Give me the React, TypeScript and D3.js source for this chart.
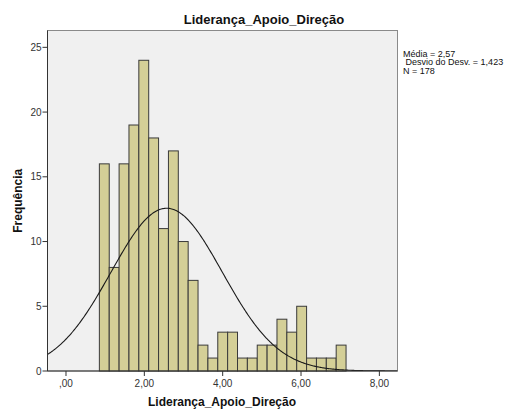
import React from "react";
import * as d3 from "d3";

const counts = [16, 8, 16, 19, 24, 18, 11, 17, 10, 7, 2, 1, 3, 3, 1, 1, 2, 2, 4, 3, 5, 1, 1, 1, 2];
const binStart = 0.852;
const binWidth = 0.2519;
const xTicks = [0, 2, 4, 6, 8];
const yTicks = [0, 5, 10, 15, 20, 25];
const mean = 2.57;
const sd = 1.423;
const n = 178;
const statLines = ["Média = 2,57", " Desvio do Desv. = 1,423", "N = 178"];
const title = "Liderança_Apoio_Direção";
const xLabel = "Liderança_Apoio_Direção";
const yLabel = "Frequência";

const W = 508, H = 410;
const L = 47.5, R = 397.5, T = 30.5, B = 371;

export default function App() {
  const x = d3.scaleLinear().domain([-0.472, 8.463]).range([L, R]);
  const y = d3.scaleLinear().domain([0, 26.3]).range([B, T]);
  const fmt = (v: number) => (v === 0 ? ",00" : v.toFixed(2).replace(".", ","));
  const [x0, x1] = x.domain();
  const pts: [number, number][] = d3.range(0, 401).map((i) => {
    const v = x0 + ((x1 - x0) * i) / 400;
    const dens = Math.exp(-0.5 * ((v - mean) / sd) ** 2) / (sd * Math.sqrt(2 * Math.PI));
    return [v, dens * n * binWidth];
  });
  const line = d3.line<[number, number]>().x((d) => x(d[0])).y((d) => y(d[1])).curve(d3.curveLinear);
  const font = "'Liberation Sans', Arial, sans-serif";
  return (
    <svg width={W} height={H} style={{ position: "absolute", left: 0, top: 0, background: "#fff" }} fontFamily={font}>
      <rect x={L} y={T} width={R - L} height={B - T} fill="#f0f0f0" stroke="#8a8a8a" strokeWidth={1} />
      <defs>
        <clipPath id="pc"><rect x={L} y={T} width={R - L} height={B - T} /></clipPath>
      </defs>
      {counts.map((c, i) => {
        const a = x(binStart + i * binWidth);
        const b = x(binStart + (i + 1) * binWidth);
        return (
          <rect key={i} x={a} y={y(c)} width={b - a} height={y(0) - y(c)} fill="#d4cf97" stroke="#3a3a3a" strokeWidth={1} />
        );
      })}
      <path d={line(pts) || ""} fill="none" stroke="#1a1a1a" strokeWidth={1.1} clipPath="url(#pc)" />
      <line x1={L} x2={L} y1={T} y2={B} stroke="#333" />
      <line x1={L} x2={R} y1={B} y2={B} stroke="#333" />
      {yTicks.map((t) => (
        <g key={t}>
          <line x1={L - 5} x2={L} y1={y(t)} y2={y(t)} stroke="#333" />
          <text x={L - 6} y={y(t) + 3.5} textAnchor="end" fontSize={10} fill="#333">{t}</text>
        </g>
      ))}
      {xTicks.map((t) => (
        <g key={t}>
          <line x1={x(t)} x2={x(t)} y1={B} y2={B + 5} stroke="#333" />
          <text x={x(t)} y={B + 16} textAnchor="middle" fontSize={10} fill="#333">{fmt(t)}</text>
        </g>
      ))}
      <text x={264} y={24} textAnchor="middle" fontSize={13} fontWeight="bold" fill="#111">{title}</text>
      <text x={222} y={406} textAnchor="middle" fontSize={12} fontWeight="bold" fill="#111">{xLabel}</text>
      <text transform={`translate(22,${(T + B) / 2}) rotate(-90)`} textAnchor="middle" fontSize={12} fontWeight="bold" fill="#111">{yLabel}</text>
      {statLines.map((s, i) => (
        <text key={i} x={403} y={56.5 + i * 8.5} fontSize={9} fill="#111" style={{ whiteSpace: "pre" }}>{s}</text>
      ))}
    </svg>
  );
}
